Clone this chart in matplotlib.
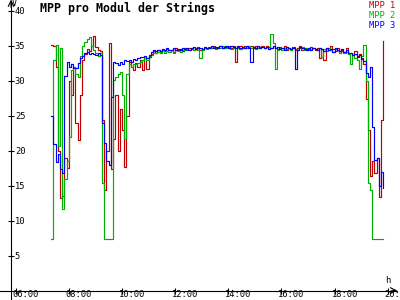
import numpy as np
import matplotlib
matplotlib.use("Agg")
import matplotlib.pyplot as plt
from matplotlib.transforms import ScaledTranslation

# time axis: 5-minute samples from 07:20 to 19:50 (hours)
start_h, step_min, n_pts = 7 + 20 / 60, 5, 151
times = start_h + np.arange(n_pts) * step_min / 60

mpp1 = [
    35.1, 35.0, 32.0, 20.0, 13.2, 13.5, 19.0, 17.5, 30.0, 28.0, 32.0, 24.0,
    21.5, 28.0, 33.0, 33.8, 34.5, 34.2, 35.0, 36.3, 34.8, 34.4, 34.2, 24.4,
    14.4, 20.0, 35.4, 17.3, 21.6, 28.0, 20.0, 26.0, 23.0, 17.7, 25.0, 32.6,
    32.0, 31.5, 32.5, 32.0, 33.0, 31.5, 33.2, 31.6, 33.3, 33.8, 34.2, 33.9,
    34.3, 34.1, 34.4, 34.2, 34.5, 34.3, 34.4, 34.1, 34.6, 34.3, 34.5, 34.2,
    34.6, 34.4, 34.7, 34.5, 34.3, 34.6, 34.8, 34.4, 34.5, 34.7, 34.6, 34.8,
    34.7, 34.9, 34.6, 34.8, 35.0, 34.7, 34.9, 34.8, 35.0, 34.6, 34.9, 32.7,
    34.8, 35.0, 34.7, 34.9, 34.6, 34.8, 35.0, 34.7, 34.9, 34.6, 34.8, 34.9,
    34.7, 35.0, 34.8, 34.6, 34.9, 34.7, 34.5, 34.8, 34.6, 34.9, 34.3, 34.7,
    34.5, 34.8, 34.4, 34.6, 34.9, 34.3, 34.7, 34.5, 34.4, 34.8, 34.6, 34.4,
    34.7, 33.2, 34.5, 33.0, 34.6, 34.3, 34.9, 34.5, 34.2, 34.6, 34.0, 34.3,
    34.1, 34.6, 33.8, 34.0, 33.6, 34.2, 33.5, 33.8, 33.2, 32.4, 27.3, 23.0,
    16.3, 18.5, 16.8, 19.0, 13.3, 24.4, 35.6,
]
mpp2 = [
    7.3, 33.0, 35.1, 20.6, 34.7, 11.6, 15.9, 18.5, 22.0, 31.5, 32.0, 31.0,
    30.5, 33.5, 35.0, 35.5, 35.9, 36.2, 35.0, 34.3, 34.0, 33.5, 34.0, 15.4,
    7.3, 7.3, 7.3, 7.3, 30.1, 30.5, 31.0, 31.2, 28.0, 21.6, 31.0, 32.3,
    32.0, 32.3, 32.3, 32.5, 32.6, 33.0, 33.2, 33.0, 33.5, 33.6, 33.9, 34.0,
    34.1, 34.0, 34.3, 34.0, 34.2, 34.1, 34.4, 34.0, 34.3, 34.2, 34.1, 34.4,
    34.3, 34.5, 34.4, 34.6, 34.3, 34.5, 34.4, 33.2, 34.4, 34.6, 34.5, 34.7,
    34.6, 34.8, 34.5, 34.7, 34.6, 34.9, 34.7, 34.6, 34.8, 34.5, 34.7, 34.6,
    34.7, 34.5, 34.8, 34.6, 34.7, 34.9, 34.6, 34.8, 34.5, 34.7, 34.6, 34.8,
    34.6, 34.8, 34.5, 36.6, 35.4, 31.6, 34.3, 34.6, 34.4, 34.7, 34.5, 34.6,
    34.4, 34.7, 34.5, 34.3, 34.6, 34.8, 34.4, 34.6, 34.5, 34.3, 34.7, 34.5,
    34.4, 34.6, 33.4, 34.5, 34.2, 34.6, 34.4, 34.1, 34.5, 34.3, 34.0, 34.2,
    33.9, 34.1, 33.8, 32.3, 33.6, 33.2, 33.0, 31.6, 33.5, 35.1, 30.0, 15.4,
    14.4, 7.3, 7.3, 7.3, 7.3, 7.3, 7.3,
]
mpp3 = [
    24.9, 21.0, 18.3, 19.5, 17.3, 16.8, 30.6, 32.6, 32.0, 32.3, 31.8, 31.8,
    32.5, 33.2, 33.5, 34.0, 34.1, 33.8, 34.0, 33.8, 33.7, 33.9, 33.6, 24.0,
    21.1, 18.5, 18.0, 27.7, 32.6, 32.5, 32.2, 32.6, 32.4, 33.0, 32.8, 33.0,
    32.7, 33.1, 33.0, 33.2, 33.4, 33.3, 33.5, 33.2, 33.6, 34.1, 34.3, 34.2,
    34.4, 34.2, 34.5, 34.3, 34.6, 34.4, 34.3, 34.6, 34.4, 34.5, 34.3, 34.6,
    34.5, 34.7, 34.4, 34.6, 34.8, 34.5, 34.7, 34.6, 34.5, 34.8, 34.6, 34.7,
    34.9, 34.6, 34.8, 34.7, 34.9, 34.6, 34.8, 34.9, 34.7, 35.0, 34.8, 34.6,
    34.9, 34.7, 34.8, 34.6, 34.9, 34.7, 32.6, 34.8, 34.6, 34.9, 34.7, 34.8,
    34.6, 34.8, 34.5, 34.7, 34.9, 34.6, 34.8, 34.5, 34.7, 34.4, 34.8, 34.6,
    34.5, 34.7, 31.6, 34.4, 34.8, 34.6, 34.5, 34.3, 34.7, 34.4, 34.6, 34.5,
    34.4, 34.7, 34.5, 34.2, 34.6, 34.3, 34.5, 34.1, 34.6, 34.4, 34.2, 34.5,
    34.1, 34.3, 33.9, 34.0, 33.6, 33.8, 33.3, 33.6, 33.1, 32.8, 31.1, 30.5,
    32.0, 23.4, 18.7, 19.0, 14.9, 16.9, 14.7,
]

labels = ["MPP 1", "MPP 2", "MPP 3"]
colors = ["#c00000", "#00b000", "#0000ff"]
y_ticks = [5, 10, 15, 20, 25, 30, 35, 40]
x_ticks = [6, 8, 10, 12, 14, 16, 18, 20]
x_ticklabels = ["06:00", "08:00", "10:00", "12:00", "14:00", "16:00", "18:00", "20:00"]

mono = "DejaVu Sans Mono"

fig = plt.figure(figsize=(4, 3), dpi=100)
ax = fig.add_axes([0, 0, 1, 1])
ax.set_xlim(5.409, 20.464)
ax.set_ylim(-1.357, 41.5)
ax.patch.set_visible(False)

for vals, lab, col in zip([mpp1, mpp2, mpp3], labels, colors):
    ax.plot(times, vals, color=col, lw=0.85, drawstyle="steps-post", label=lab)

# axes crossing at the origin, with arrow heads
y_axis_x = 5.823
for s in ["top", "right"]:
    ax.spines[s].set_visible(False)
ax.spines["left"].set_position(("data", y_axis_x))
ax.spines["bottom"].set_position(("data", 0))
ax.spines["left"].set_bounds(-1.357, 41.4)
ax.spines["bottom"].set_bounds(5.409, 20.35)
ax.spines["left"].set_linewidth(0.8)
ax.spines["bottom"].set_linewidth(0.8)
ax.annotate("", xy=(y_axis_x, 41.55), xytext=(y_axis_x, 40.5),
            arrowprops=dict(arrowstyle="->", lw=0.8, color="black",
                            shrinkA=0, shrinkB=0), annotation_clip=False)
ax.annotate("", xy=(20.36, 0), xytext=(20.2, 0),
            arrowprops=dict(arrowstyle="->", lw=0.8, color="black",
                            shrinkA=0, shrinkB=0), annotation_clip=False)

ax.set_yticks(y_ticks)
ax.set_xticks(x_ticks)
ax.set_xticklabels(x_ticklabels)
ax.tick_params(direction="inout", length=4.5, width=0.8, labelsize=6.3)
ax.tick_params(axis="y", pad=-5)
ax.tick_params(axis="x", pad=-2.5)
for lbl in ax.get_yticklabels():
    lbl.set_ha("left")
    lbl.set_family(mono)
for lbl in ax.get_xticklabels():
    lbl.set_ha("left")
    lbl.set_family(mono)
    lbl.set_transform(lbl.get_transform() + ScaledTranslation(-3 / 100, 0, fig.dpi_scale_trans))

fig.text(40 / 400, 1 - 2 / 300, "MPP pro Modul der Strings", ha="left", va="top",
         fontsize=8.4, fontweight="bold", family=mono)
fig.text(12 / 400, 1 + 1 / 300, "V", ha="left", va="top", fontsize=6, family=mono)
fig.text(385 / 400, 1 - 276 / 300, "h", ha="left", va="top", fontsize=6.3, family=mono)

leg = ax.legend(loc="upper right", bbox_to_anchor=(395 / 400, 1 - 1 / 300),
                bbox_transform=fig.transFigure, frameon=False, handlelength=0,
                handletextpad=0, labelcolor="linecolor", borderaxespad=0,
                borderpad=0, labelspacing=0.1, prop={"family": mono, "size": 6.3})
for h in leg.legend_handles:
    h.set_visible(False)

fig.savefig("out.png", dpi=100, facecolor="white")
